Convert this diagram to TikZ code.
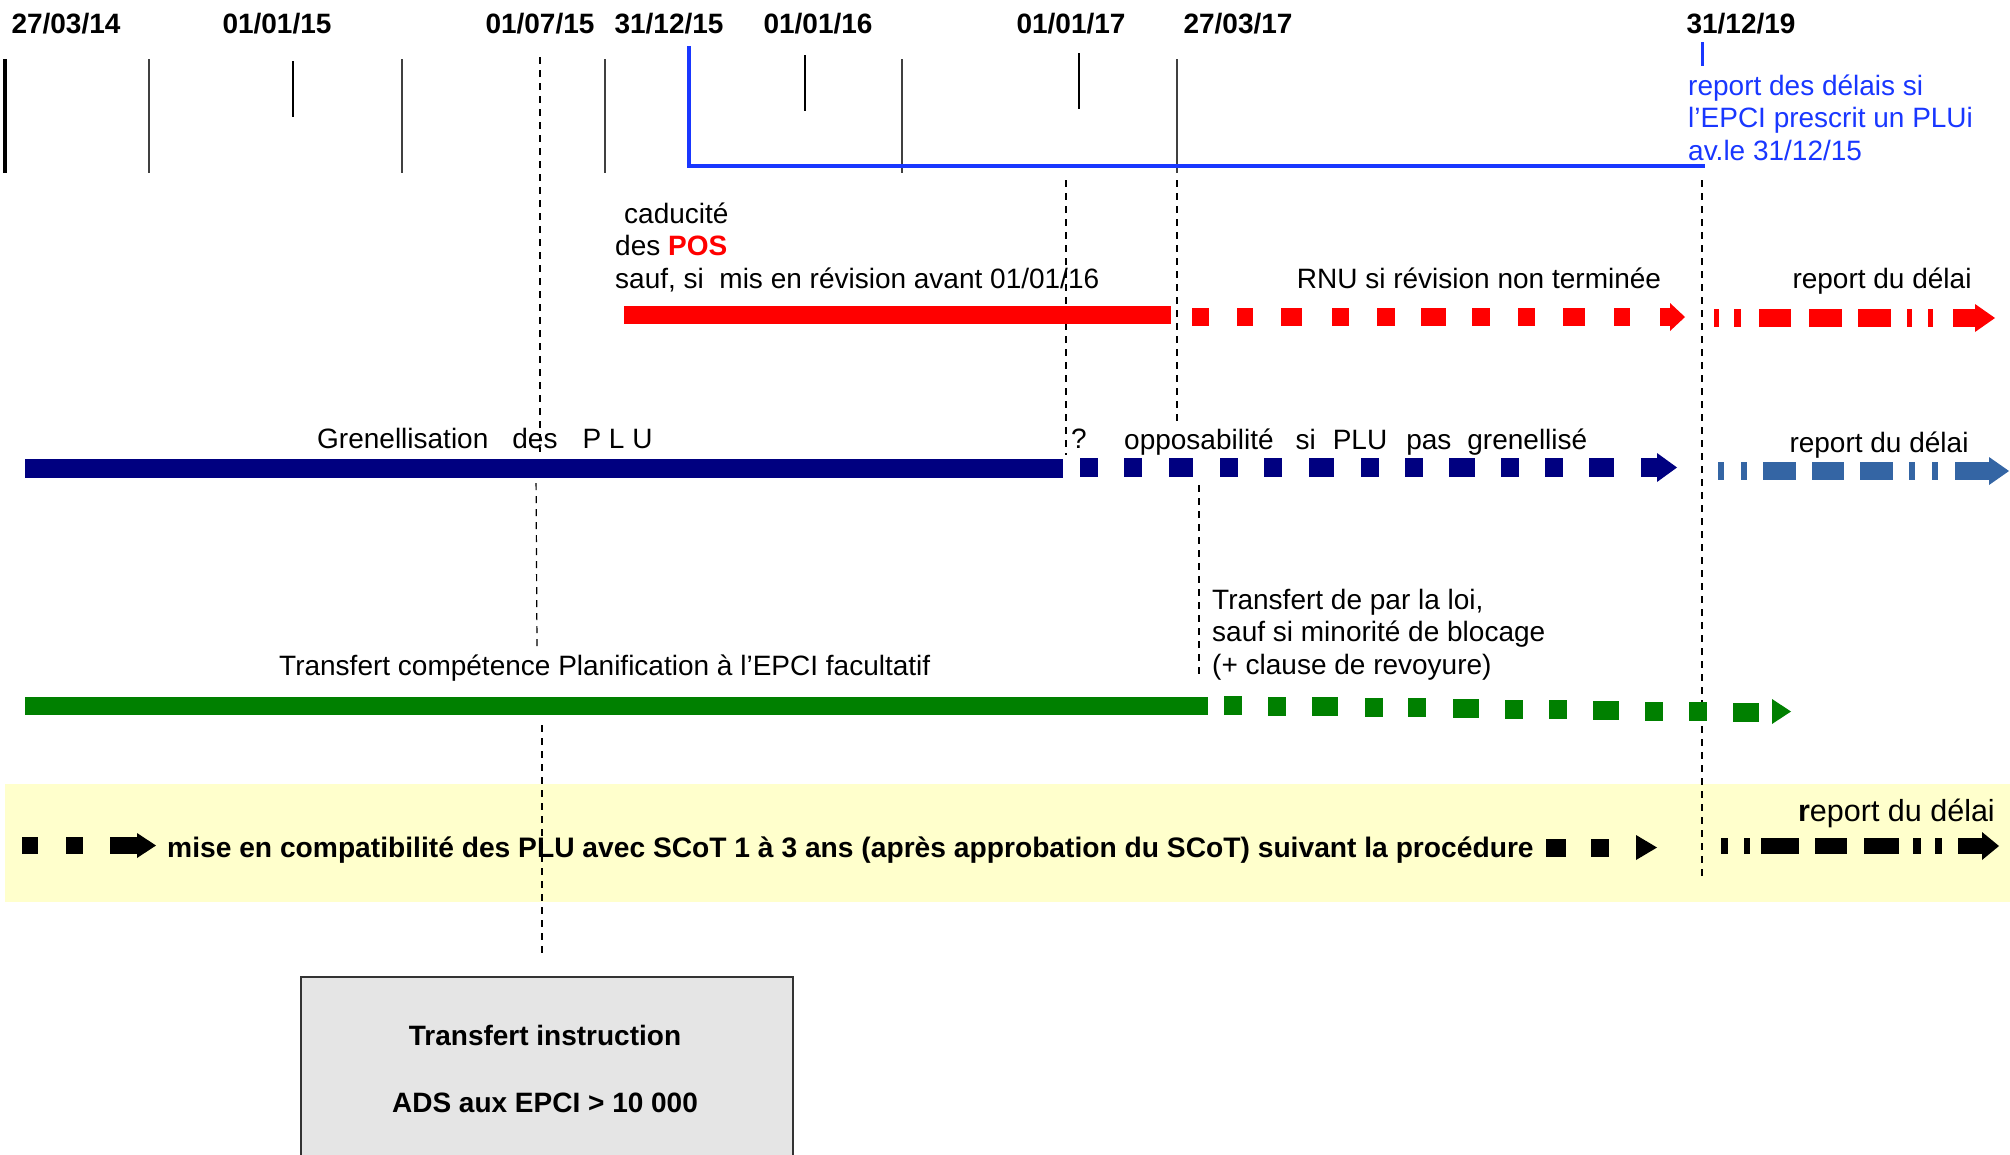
\documentclass[tikz,border=0pt]{standalone}
\usepackage{fontspec}
\setmainfont{Liberation Sans}
\definecolor{rred}{RGB}{255,0,0}
\definecolor{navy}{RGB}{0,0,128}
\definecolor{lblue}{RGB}{52,101,164}
\definecolor{ggreen}{RGB}{0,128,0}
\definecolor{bblue}{RGB}{25,55,255}
\definecolor{band}{RGB}{255,255,204}
\definecolor{boxfill}{RGB}{229,229,229}
\newcommand\dashrow[4]{\foreach \a/\b in {#4}{\fill[#1] (\a,#2) rectangle (\b,#3);}}
\begin{document}
\begin{tikzpicture}[x=1pt,y=-1pt,
  txt/.style={inner sep=0pt,anchor=base west,font=\fontsize{28}{32.5}\selectfont},
  ctxt/.style={txt,anchor=base},
  datelbl/.style={inner sep=0pt,anchor=base,font=\fontsize{28}{32.5}\selectfont\bfseries},
  thintick/.style={draw=black!75,line width=1.3pt},
  thicktick/.style={draw=black,line width=3.2pt},
  guide/.style={draw=black,line width=1.2pt,dash pattern=on 7pt off 6pt}]
\useasboundingbox (0,0) rectangle (2010,1154);
% yellow band
\fill[band] (5,784) rectangle (2010,902);
% box
\node[draw=black!80,line width=2pt,fill=boxfill,minimum width=492pt,minimum height=200pt,anchor=north west,inner sep=0pt] (box) at (300,976) {};
\node[datelbl] (b1) at (545,1045) {Transfert instruction};
\node[datelbl] (b2) at (545,1112) {ADS aux EPCI > 10 000};
% date labels
\node[datelbl] (d1) at (66,33) {27/03/14};
\node[datelbl] (d2) at (277,33) {01/01/15};
\node[datelbl] (d3) at (540,33) {01/07/15};
\node[datelbl] (d4) at (669,33) {31/12/15};
\node[datelbl] (d5) at (818,33) {01/01/16};
\node[datelbl] (d6) at (1071,33) {01/01/17};
\node[datelbl] (d7) at (1238,33) {27/03/17};
\node[datelbl] (d8) at (1741,33) {31/12/19};
% ticks
\draw[thicktick,line width=4pt] (5,59) -- (5,173);
\draw[thintick] (149,59) -- (149,173);
\draw[thicktick,line width=2.8pt] (293,61) -- (293,117);
\draw[thintick] (402,59) -- (402,173);
\draw[thintick] (605,59) -- (605,173);
\draw[thicktick,line width=2.8pt] (805,55) -- (805,111);
\draw[thintick] (902,59) -- (902,173);
\draw[thicktick,line width=2.8pt] (1079,53) -- (1079,109);
\draw[thintick] (1177,59) -- (1177,173);
\draw[bblue,line width=3.5pt] (689,46) -- (689,166) -- (1705,166);
\draw[bblue,line width=3pt] (1702,42) -- (1702,66);
% guides
\draw[guide] (540,57) -- (540,452);
\draw[guide] (536,470) -- (537,647);
\draw[guide] (542,725) -- (542,958);
\draw[guide] (1066,180) -- (1066,455);
\draw[guide] (1177,180) -- (1177,425);
\draw[guide] (1199,485) -- (1199,680);
\draw[guide] (1702,180) -- (1702,878);
% blue note
\node[txt,text=bblue] (bn1) at (1688,95) {report des délais si};
\node[txt,text=bblue] (bn2) at (1688,127.5) {l’EPCI prescrit un PLUi};
\node[txt,text=bblue] (bn3) at (1688,160) {av.le 31/12/15};
% red row
\node[txt] (r1) at (624,223) {caducité};
\node[txt] (r2) at (615,255.5) {des {\color{rred}\bfseries POS}};
\node[txt] (r3) at (615,288) {sauf, si\ \ mis en révision avant 01/01/16};
\node[ctxt] (r4) at (1479,288) {RNU si révision non terminée};
\node[ctxt] (r5) at (1882,288) {report du délai};
\fill[rred] (624,306) rectangle (1171,324);
\dashrow{rred}{308}{326}{1192/1209,1237/1253,1281/1302,1332/1349,1377/1395,1421/1446,1472/1490,1518/1535,1563/1585,1614/1630,1660/1671}
\fill[rred] (1670,303) -- (1685,317) -- (1670,331) -- cycle;
\dashrow{rred}{309}{327}{1714/1719,1734/1741,1759/1791,1809/1842,1858/1891,1907/1912,1928/1933,1953/1976}
\fill[rred] (1975,304) -- (1995,318) -- (1975,332) -- cycle;
% navy row
\node[txt] (n1) at (317,448) {Grenellisation\hspace{24pt}des\hspace{25pt}P L U};
\node[txt] (n2) at (1071,448) {?};
\node[txt] (n3) at (1124,449) {opposabilité\hspace{22pt}si\hspace{17pt}PLU\hspace{19pt}pas\hspace{16pt}grenellisé};
\node[ctxt] (n4) at (1879,452) {report du délai};
\fill[navy] (25,459) rectangle (1063,478);
\dashrow{navy}{458}{477}{1080/1098,1124/1142,1169/1193,1220/1238,1264/1282,1309/1334,1361/1379,1405/1423,1449/1475,1501/1519,1545/1563,1589/1614,1641/1658}
\fill[navy] (1657,453) -- (1677,467.5) -- (1657,482) -- cycle;
\dashrow{lblue}{462}{480}{1718/1724,1741/1747,1763/1796,1812/1844,1860/1893,1909/1915,1932/1938,1955/1990}
\fill[lblue] (1989,457) -- (2009,471) -- (1989,485) -- cycle;
% green row
\node[txt] (g1) at (279,675) {Transfert compétence Planification à l’EPCI facultatif};
\node[txt] (g2) at (1212,609) {Transfert de par la loi,};
\node[txt] (g3) at (1212,641.5) {sauf si minorité de blocage};
\node[txt] (g4) at (1212,674) {(+ clause de revoyure)};
\fill[ggreen] (25,697) rectangle (1208,715);
\foreach \a/\b/\t in {1224/1242/696,1268/1286/697,1312/1338/697,1365/1383/698,1408/1426/698,1453/1479/699,1505/1523/700,1549/1567/700,1593/1619/701,1645/1663/702,1689/1707/702,1733/1759/703}
  {\fill[ggreen] (\a,\t) rectangle (\b,\t+19);}
\fill[ggreen] (1772,699) -- (1791,711.5) -- (1772,724) -- cycle;
% band row
\dashrow{black}{837}{854}{22/38,66/83,110/138}
\fill[black] (137,833) -- (156,845.5) -- (137,858) -- cycle;
\node[txt,font=\fontsize{28.2}{32.5}\selectfont\bfseries] (y1) at (167,857) {mise en compatibilité des PLU avec SCoT 1 à 3 ans (après approbation du SCoT) suivant la procédure};
\dashrow{black}{839}{857}{1546/1566,1591/1609}
\fill[black] (1636,835) -- (1657,847.5) -- (1636,860) -- cycle;
\dashrow{black}{838}{854}{1721/1728,1744/1750,1761/1799,1815/1847,1864/1899,1913/1921,1935/1942,1958/1983}
\fill[black] (1982,832) -- (1999,846) -- (1982,860) -- cycle;
\node[txt,anchor=base east,font=\fontsize{30.5}{34}\selectfont] (y2) at (1995,821) {{\bfseries r}eport du délai};
\end{tikzpicture}
\end{document}
